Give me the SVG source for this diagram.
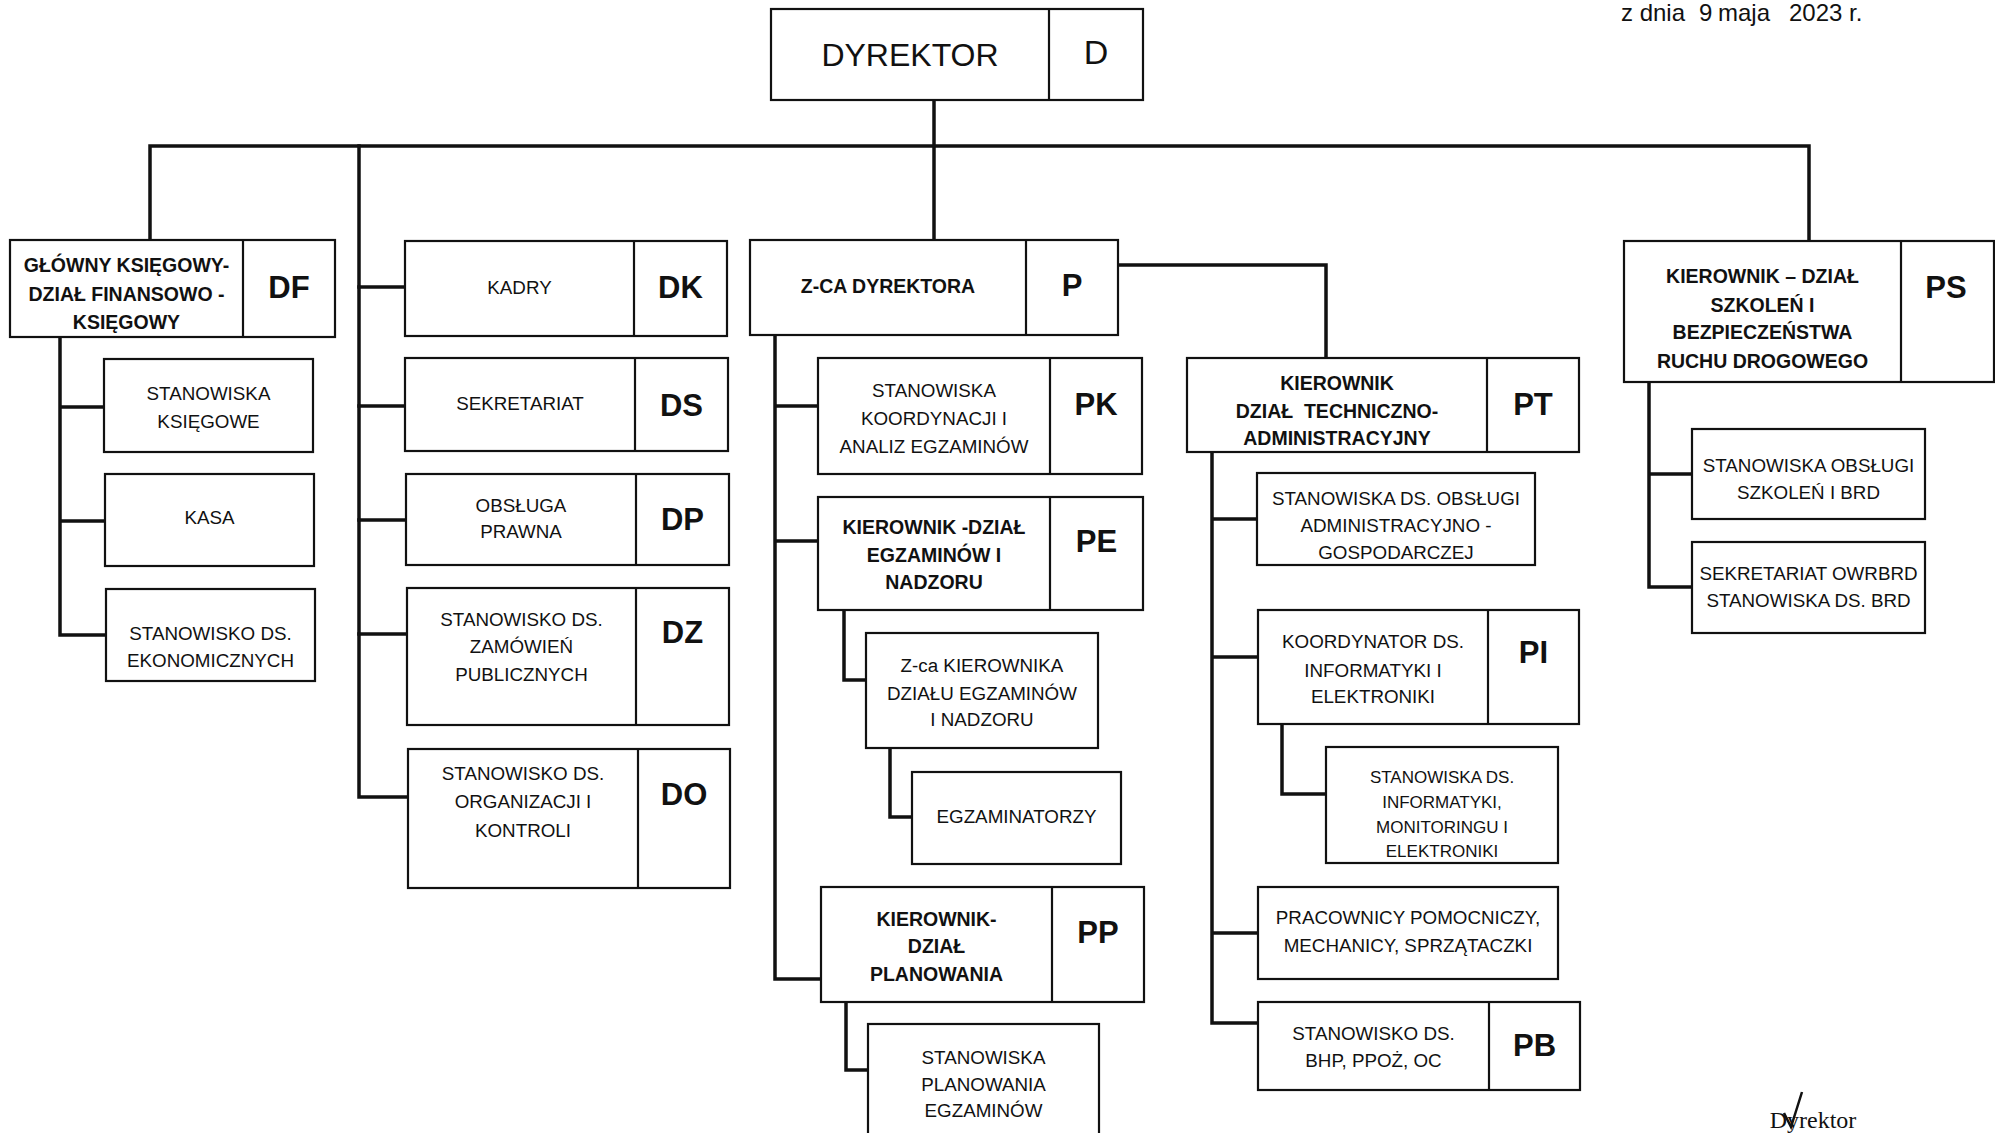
<svg xmlns="http://www.w3.org/2000/svg" width="1995" height="1133" viewBox="0 0 1995 1133">
<style>
  .bg { fill: #ffffff; }
  .box { fill: #ffffff; stroke: #111; stroke-width: 2.2; }
  .dv { stroke: #111; stroke-width: 2.2; }
  .cn { fill: none; stroke: #111; stroke-width: 3.5; stroke-linejoin: miter; stroke-linecap: square; }
  text { font-family: "Liberation Sans", Arial, sans-serif; fill: #111; text-anchor: middle; }
  .t { font-size: 18.8px; }
  .s { font-size: 17px; }
  .b { font-size: 19.5px; font-weight: bold; }
  .c { font-size: 31px; font-weight: bold; }
  .top { font-size: 32px; }
</style>
<rect class="bg" x="0" y="0" width="1995" height="1133"/>

<text x="1621" y="21" style="font-size:24px;text-anchor:start"><tspan x="1621">z dnia</tspan><tspan x="1699">9</tspan><tspan x="1718">maja</tspan><tspan x="1789">2023 r.</tspan></text>

<g id="connectors">
  <path class="cn" d="M934,100 V240"/>
  <path class="cn" d="M150,240 V146 H1809 V241"/>
  <path class="cn" d="M359,146 V797 H408"/>
  <path class="cn" d="M359,287 H405 M359,406 H405 M359,520 H406 M359,634 H407"/>
  <path class="cn" d="M60,337 V635 H106 M60,407 H104 M60,521 H105"/>
  <path class="cn" d="M775,335 V979 H821 M775,406 H818 M775,541 H818"/>
  <path class="cn" d="M1118,265 H1326 V358"/>
  <path class="cn" d="M844,610 V680 H866"/>
  <path class="cn" d="M890,748 V817 H912"/>
  <path class="cn" d="M846,1002 V1070 H868"/>
  <path class="cn" d="M1212,452 V1023 H1258 M1212,519 H1257 M1212,657 H1258 M1212,933 H1258"/>
  <path class="cn" d="M1282,724 V794 H1326"/>
  <path class="cn" d="M1649,382 V587 H1692 M1649,474 H1692"/>
</g>

<g id="D">
  <rect class="box" x="771" y="9" width="372" height="91"/>
  <line class="dv" x1="1049" y1="9" x2="1049" y2="100"/>
  <text class="top" x="910" y="66">DYREKTOR</text>
  <text x="1096" y="64" style="font-size:34px">D</text>
</g>

<g id="DF">
  <rect class="box" x="10" y="240" width="325" height="97"/>
  <line class="dv" x1="243" y1="240" x2="243" y2="337"/>
  <text class="b" x="126.5" y="272">GŁÓWNY KSIĘGOWY-</text>
  <text class="b" x="126.5" y="301">DZIAŁ FINANSOWO -</text>
  <text class="b" x="126.5" y="329">KSIĘGOWY</text>
  <text class="c" x="289" y="298">DF</text>
</g>

<g id="DF1">
  <rect class="box" x="104" y="359" width="209" height="93"/>
  <text class="t" x="208.5" y="400">STANOWISKA</text>
  <text class="t" x="208.5" y="428">KSIĘGOWE</text>
</g>
<g id="DF2">
  <rect class="box" x="105" y="474" width="209" height="92"/>
  <text class="t" x="209.5" y="524">KASA</text>
</g>
<g id="DF3">
  <rect class="box" x="106" y="589" width="209" height="92"/>
  <text class="t" x="210.5" y="640">STANOWISKO DS.</text>
  <text class="t" x="210.5" y="667">EKONOMICZNYCH</text>
</g>

<g id="DK">
  <rect class="box" x="405" y="241" width="322" height="95"/>
  <line class="dv" x1="634" y1="241" x2="634" y2="336"/>
  <text class="t" x="519.5" y="294">KADRY</text>
  <text class="c" x="680.5" y="298">DK</text>
</g>
<g id="DS">
  <rect class="box" x="405" y="358" width="323" height="93"/>
  <line class="dv" x1="635" y1="358" x2="635" y2="451"/>
  <text class="t" x="520" y="410">SEKRETARIAT</text>
  <text class="c" x="681.5" y="416">DS</text>
</g>
<g id="DP">
  <rect class="box" x="406" y="474" width="323" height="91"/>
  <line class="dv" x1="636" y1="474" x2="636" y2="565"/>
  <text class="t" x="521" y="512">OBSŁUGA</text>
  <text class="t" x="521" y="538">PRAWNA</text>
  <text class="c" x="682.5" y="530">DP</text>
</g>
<g id="DZ">
  <rect class="box" x="407" y="588" width="322" height="137"/>
  <line class="dv" x1="636" y1="588" x2="636" y2="725"/>
  <text class="t" x="521.5" y="626">STANOWISKO DS.</text>
  <text class="t" x="521.5" y="653">ZAMÓWIEŃ</text>
  <text class="t" x="521.5" y="681">PUBLICZNYCH</text>
  <text class="c" x="682.5" y="643">DZ</text>
</g>
<g id="DO">
  <rect class="box" x="408" y="749" width="322" height="139"/>
  <line class="dv" x1="638" y1="749" x2="638" y2="888"/>
  <text class="t" x="523" y="780">STANOWISKO DS.</text>
  <text class="t" x="523" y="808">ORGANIZACJI I</text>
  <text class="t" x="523" y="837">KONTROLI</text>
  <text class="c" x="684" y="805">DO</text>
</g>

<g id="P">
  <rect class="box" x="750" y="240" width="368" height="95"/>
  <line class="dv" x1="1026" y1="240" x2="1026" y2="335"/>
  <text class="b" x="888" y="293">Z-CA DYREKTORA</text>
  <text class="c" x="1072" y="296">P</text>
</g>
<g id="PK">
  <rect class="box" x="818" y="358" width="324" height="116"/>
  <line class="dv" x1="1050" y1="358" x2="1050" y2="474"/>
  <text class="t" x="934" y="397">STANOWISKA</text>
  <text class="t" x="934" y="425">KOORDYNACJI I</text>
  <text class="t" x="934" y="453">ANALIZ EGZAMINÓW</text>
  <text class="c" x="1096" y="415">PK</text>
</g>
<g id="PE">
  <rect class="box" x="818" y="497" width="325" height="113"/>
  <line class="dv" x1="1050" y1="497" x2="1050" y2="610"/>
  <text class="b" x="934" y="534">KIEROWNIK -DZIAŁ</text>
  <text class="b" x="934" y="562">EGZAMINÓW I</text>
  <text class="b" x="934" y="589">NADZORU</text>
  <text class="c" x="1096.5" y="552">PE</text>
</g>
<g id="PE-zca">
  <rect class="box" x="866" y="633" width="232" height="115"/>
  <text class="t" x="982" y="672">Z-ca KIEROWNIKA</text>
  <text class="t" x="982" y="700">DZIAŁU EGZAMINÓW</text>
  <text class="t" x="982" y="726">I NADZORU</text>
</g>
<g id="PE-egz">
  <rect class="box" x="912" y="772" width="209" height="92"/>
  <text class="t" x="1016.5" y="823">EGZAMINATORZY</text>
</g>
<g id="PP">
  <rect class="box" x="821" y="887" width="323" height="115"/>
  <line class="dv" x1="1052" y1="887" x2="1052" y2="1002"/>
  <text class="b" x="936.5" y="926">KIEROWNIK-</text>
  <text class="b" x="936.5" y="953">DZIAŁ</text>
  <text class="b" x="936.5" y="981">PLANOWANIA</text>
  <text class="c" x="1098" y="943">PP</text>
</g>
<g id="PP-stan">
  <rect class="box" x="868" y="1024" width="231" height="130"/>
  <text class="t" x="983.5" y="1064">STANOWISKA</text>
  <text class="t" x="983.5" y="1091">PLANOWANIA</text>
  <text class="t" x="983.5" y="1117">EGZAMINÓW</text>
</g>

<g id="PT">
  <rect class="box" x="1187" y="358" width="392" height="94"/>
  <line class="dv" x1="1487" y1="358" x2="1487" y2="452"/>
  <text class="b" x="1337" y="390">KIEROWNIK</text>
  <text class="b" x="1337" y="418" xml:space="preserve">DZIAŁ  TECHNICZNO-</text>
  <text class="b" x="1337" y="445">ADMINISTRACYJNY</text>
  <text class="c" x="1533" y="415">PT</text>
</g>
<g id="PT-adm">
  <rect class="box" x="1257" y="473" width="278" height="92"/>
  <text class="t" x="1396" y="505">STANOWISKA DS. OBSŁUGI</text>
  <text class="t" x="1396" y="532">ADMINISTRACYJNO -</text>
  <text class="t" x="1396" y="559">GOSPODARCZEJ</text>
</g>
<g id="PI">
  <rect class="box" x="1258" y="610" width="321" height="114"/>
  <line class="dv" x1="1488" y1="610" x2="1488" y2="724"/>
  <text class="t" x="1373" y="648">KOORDYNATOR DS.</text>
  <text class="t" x="1373" y="677">INFORMATYKI I</text>
  <text class="t" x="1373" y="703">ELEKTRONIKI</text>
  <text class="c" x="1533.5" y="663">PI</text>
</g>
<g id="PI-stan">
  <rect class="box" x="1326" y="747" width="232" height="116"/>
  <text class="s" x="1442" y="783">STANOWISKA DS.</text>
  <text class="s" x="1442" y="808">INFORMATYKI,</text>
  <text class="s" x="1442" y="833">MONITORINGU I</text>
  <text class="s" x="1442" y="857">ELEKTRONIKI</text>
</g>
<g id="PT-prac">
  <rect class="box" x="1258" y="887" width="300" height="92"/>
  <text class="t" x="1408" y="924">PRACOWNICY POMOCNICZY,</text>
  <text class="t" x="1408" y="952">MECHANICY, SPRZĄTACZKI</text>
</g>
<g id="PB">
  <rect class="box" x="1258" y="1002" width="322" height="88"/>
  <line class="dv" x1="1489" y1="1002" x2="1489" y2="1090"/>
  <text class="t" x="1373.5" y="1040">STANOWISKO DS.</text>
  <text class="t" x="1373.5" y="1067">BHP, PPOŻ, OC</text>
  <text class="c" x="1534.5" y="1056">PB</text>
</g>

<g id="PS">
  <rect class="box" x="1624" y="241" width="370" height="141"/>
  <line class="dv" x1="1901" y1="241" x2="1901" y2="382"/>
  <text class="b" x="1762.5" y="283">KIEROWNIK – DZIAŁ</text>
  <text class="b" x="1762.5" y="312">SZKOLEŃ I</text>
  <text class="b" x="1762.5" y="339">BEZPIECZEŃSTWA</text>
  <text class="b" x="1762.5" y="368">RUCHU DROGOWEGO</text>
  <text class="c" x="1946" y="298">PS</text>
</g>
<g id="PS-obs">
  <rect class="box" x="1692" y="429" width="233" height="90"/>
  <text class="t" x="1808.5" y="472">STANOWISKA OBSŁUGI</text>
  <text class="t" x="1808.5" y="499">SZKOLEŃ I BRD</text>
</g>
<g id="PS-sek">
  <rect class="box" x="1692" y="542" width="233" height="91"/>
  <text class="t" x="1808.5" y="580">SEKRETARIAT OWRBRD</text>
  <text class="t" x="1808.5" y="607">STANOWISKA DS. BRD</text>
</g>

<g id="signature">
  <text x="1813" y="1128" style="font-family:'Liberation Serif','Times New Roman',serif;font-size:24px">Dyrektor</text>
  <path d="M1784,1113 L1791,1127 L1802,1092" fill="none" stroke="#111" stroke-width="2.5"/>
</g>
</svg>
